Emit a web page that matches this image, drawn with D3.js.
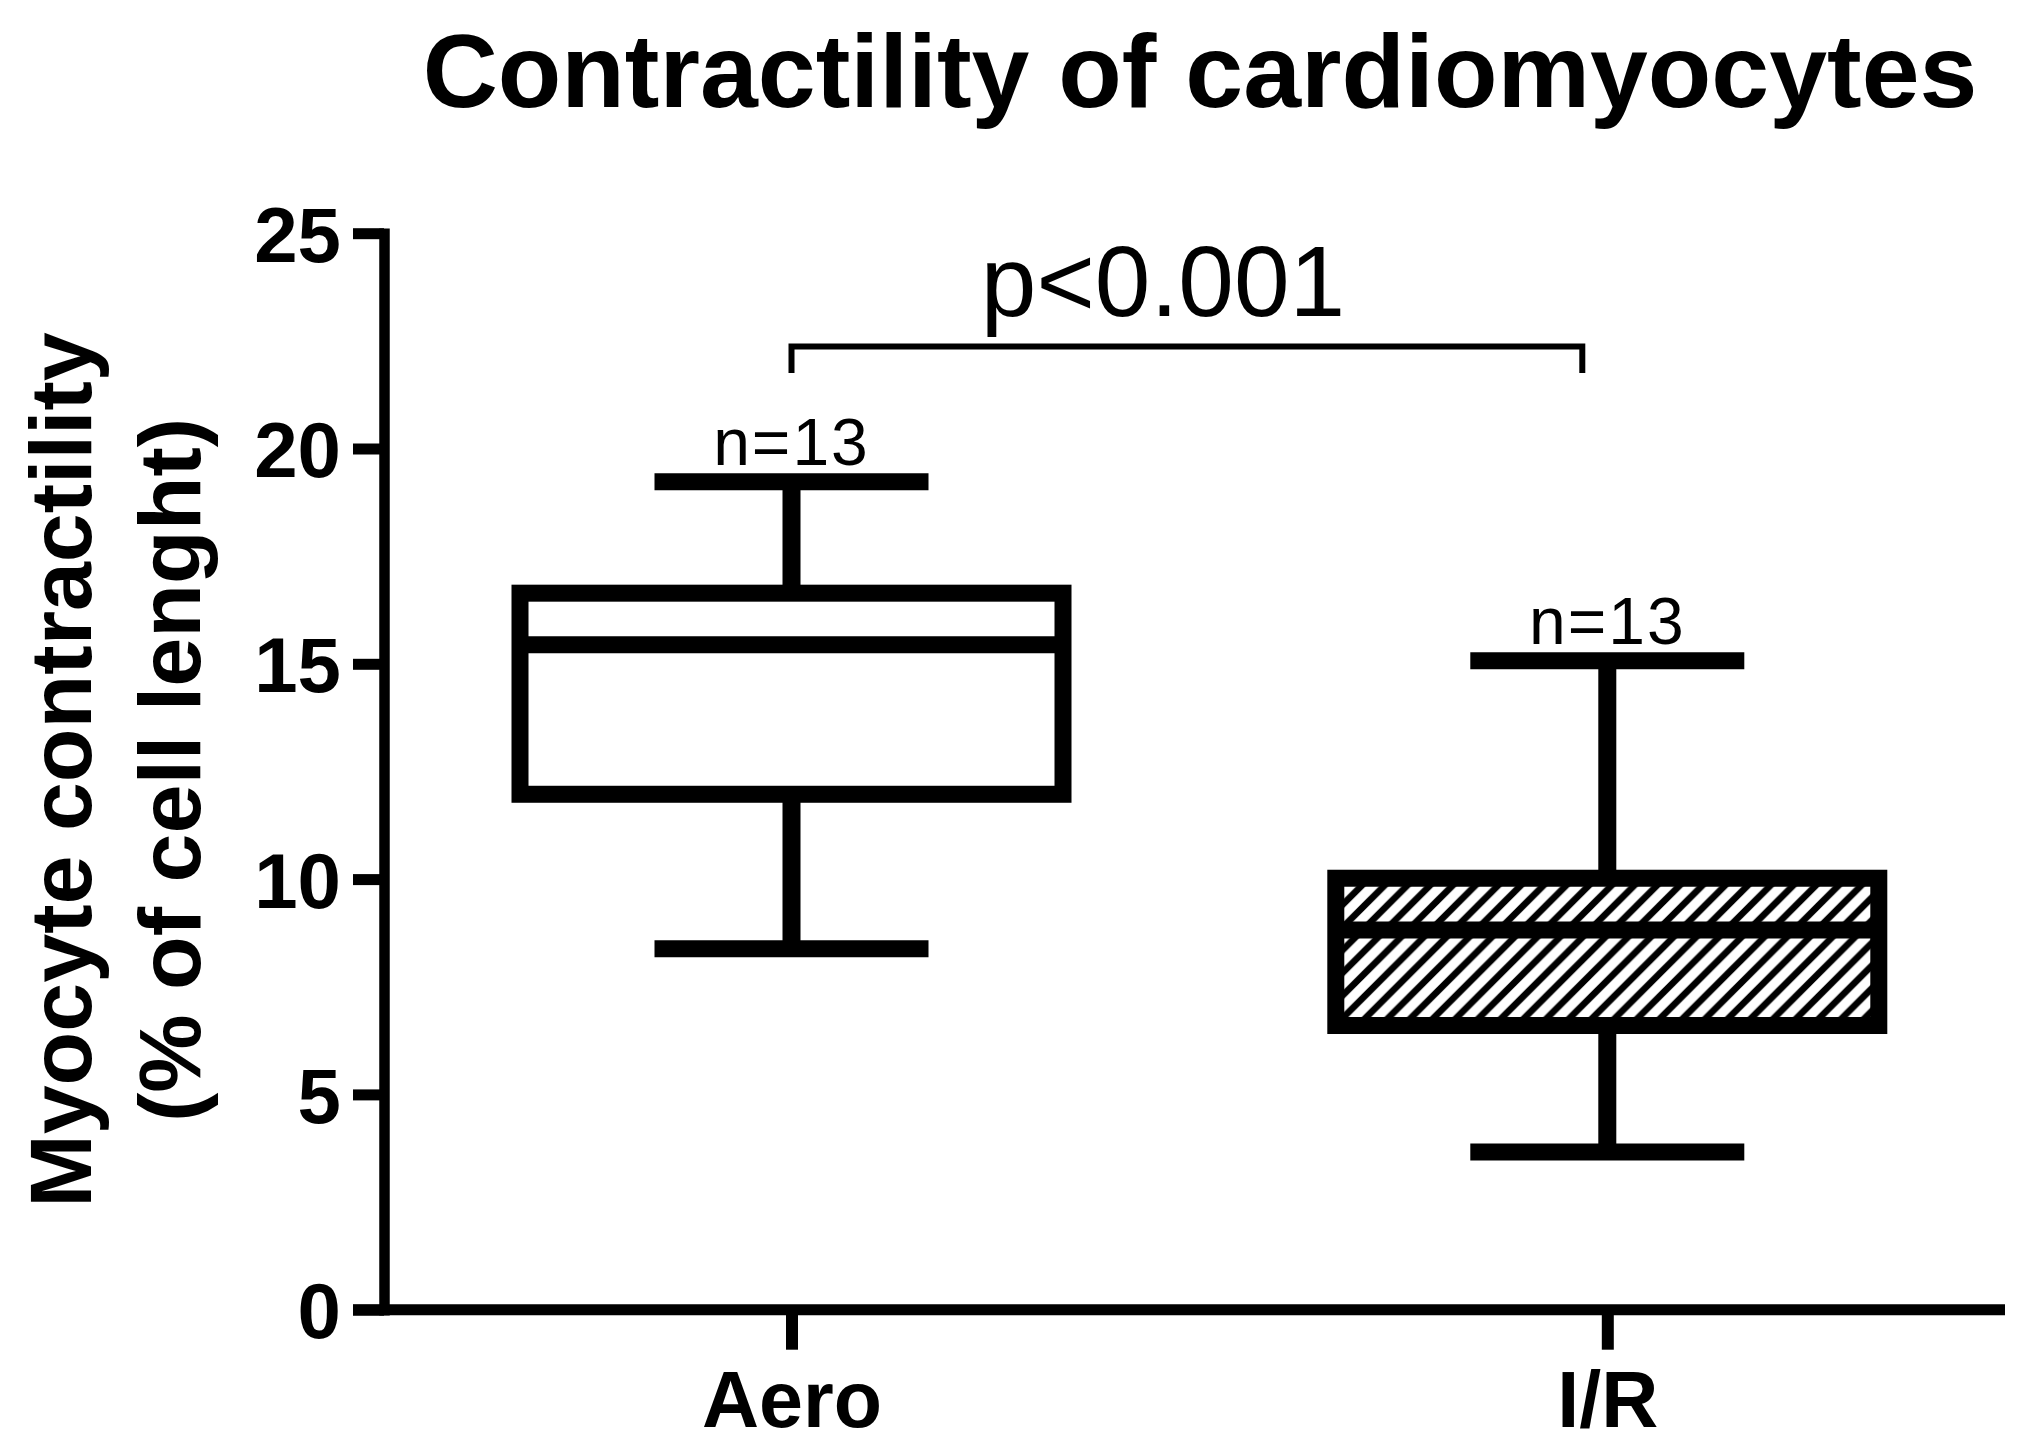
<!DOCTYPE html>
<html>
<head>
<meta charset="utf-8">
<script src="https://cdn.jsdelivr.net/npm/d3@7"></script>
<style>
  html, body { margin: 0; padding: 0; background: #fff; }
  svg { display: block; }
  text { font-family: "Liberation Sans", Arial, sans-serif; fill: #000; }
</style>
</head>
<body>
<script>
// ---- data ----
const categories = ["Aero", "I/R"];
const whiskerLow = [8.38, 3.66];
const q1 = [11.97, 6.60];
const median = [15.44, 8.82];
const q3 = [16.64, 10.02];
const whiskerHigh = [19.23, 15.07];
const nLabels = ["n=13", "n=13"];
const hatched = [false, true];
const yTicks = [0, 5, 10, 15, 20, 25];
const title = "Contractility of cardiomyocytes";
const yLabelLines = ["Myocyte contractility", "(% of cell lenght)"];
const pLabel = "p<0.001";

// ---- layout ----
const W = 2040, H = 1455;
const svg = d3.select("body").append("svg").attr("width", W).attr("height", H);
svg.append("rect").attr("width", W).attr("height", H).attr("fill", "#fff");

const defs = svg.append("defs");
const s = 22.7;
const pat = defs.append("pattern").attr("id", "hatch")
  .attr("patternUnits", "userSpaceOnUse").attr("width", s).attr("height", s);
pat.append("rect").attr("width", s).attr("height", s).attr("fill", "#fff");
pat.append("path")
  .attr("d", `M0,${s} L${s},0 M${-s/2},${s/2} L${s/2},${-s/2} M${s/2},${1.5*s} L${1.5*s},${s/2}`)
  .attr("stroke", "#000").attr("stroke-width", 6.6);

const y = d3.scaleLinear().domain([0, 25]).range([1309.7, 233.2]);
const x = d3.scalePoint().domain(categories).range([791.5, 1607.3]);

const axisX = 384;
const boxHalf = 271.5, capHalf = 137;

// title
svg.append("text").attr("x", 1200).attr("y", 107)
  .attr("text-anchor", "middle").attr("font-weight", "bold")
  .attr("font-size", 104).text(title);

// y axis label
yLabelLines.forEach((t, i) => {
  svg.append("text")
    .attr("transform", `translate(${[91, 200][i]},770) rotate(-90)`)
    .attr("text-anchor", "middle").attr("font-weight", "bold")
    .attr("font-size", 88).text(t);
});

// y axis
const gy = svg.append("g").attr("transform", `translate(${axisX},0)`)
  .call(d3.axisLeft(y).tickValues(yTicks).tickSize(31).tickSizeOuter(0).tickPadding(12));
gy.select(".domain").attr("stroke", "#000").attr("stroke-width", 10.5).attr("stroke-linecap", "square");
gy.selectAll(".tick line").attr("stroke", "#000").attr("stroke-width", 11);
gy.selectAll(".tick text").attr("font-size", 78).attr("font-weight", "bold")
  .attr("font-family", "Liberation Sans, Arial, sans-serif").attr("fill", "#000")
  .attr("dy", "0.36em");

// x axis
const gx = svg.append("g").attr("transform", `translate(0,${y(0)})`)
  .call(d3.axisBottom(x).tickSize(40).tickSizeOuter(0).tickPadding(21));
gx.select(".domain").remove();
gx.selectAll(".tick line").attr("stroke", "#000").attr("stroke-width", 12);
gx.selectAll(".tick text").attr("font-size", 79).attr("font-weight", "bold")
  .attr("font-family", "Liberation Sans, Arial, sans-serif").attr("fill", "#000");
svg.append("line").attr("x1", 353).attr("x2", 2005).attr("y1", y(0)).attr("y2", y(0))
  .attr("stroke", "#000").attr("stroke-width", 11);

// boxes
categories.forEach((c, i) => {
  const cx = x(c);
  const g = svg.append("g");
  // whiskers
  g.append("line").attr("x1", cx).attr("x2", cx).attr("y1", y(q3[i])).attr("y2", y(whiskerHigh[i]))
    .attr("stroke", "#000").attr("stroke-width", 18);
  g.append("line").attr("x1", cx).attr("x2", cx).attr("y1", y(q1[i])).attr("y2", y(whiskerLow[i]))
    .attr("stroke", "#000").attr("stroke-width", 18);
  g.append("line").attr("x1", cx - capHalf).attr("x2", cx + capHalf)
    .attr("y1", y(whiskerHigh[i])).attr("y2", y(whiskerHigh[i]))
    .attr("stroke", "#000").attr("stroke-width", 17);
  g.append("line").attr("x1", cx - capHalf).attr("x2", cx + capHalf)
    .attr("y1", y(whiskerLow[i])).attr("y2", y(whiskerLow[i]))
    .attr("stroke", "#000").attr("stroke-width", 17);
  // box
  g.append("rect").attr("x", cx - boxHalf).attr("width", 2 * boxHalf)
    .attr("y", y(q3[i])).attr("height", y(q1[i]) - y(q3[i]))
    .attr("fill", hatched[i] ? "url(#hatch)" : "#fff")
    .attr("stroke", "#000").attr("stroke-width", 17);
  // median
  g.append("line").attr("x1", cx - boxHalf).attr("x2", cx + boxHalf)
    .attr("y1", y(median[i])).attr("y2", y(median[i]))
    .attr("stroke", "#000").attr("stroke-width", 17);
  // n label
  g.append("text").attr("x", cx).attr("y", y(whiskerHigh[i]) - 17)
    .attr("text-anchor", "middle").attr("font-size", 66)
    .attr("letter-spacing", 2).text(nLabels[i]);
});

// significance bracket
const bx1 = x(categories[0]), bx2 = x(categories[1]) - 25;
svg.append("path")
  .attr("d", `M${bx1},373 V346.5 H${bx2} V373`)
  .attr("fill", "none").attr("stroke", "#000").attr("stroke-width", 6);
svg.append("text").attr("x", 1163).attr("y", 316)
  .attr("text-anchor", "middle").attr("font-size", 100).text(pLabel);
</script>
</body>
</html>
